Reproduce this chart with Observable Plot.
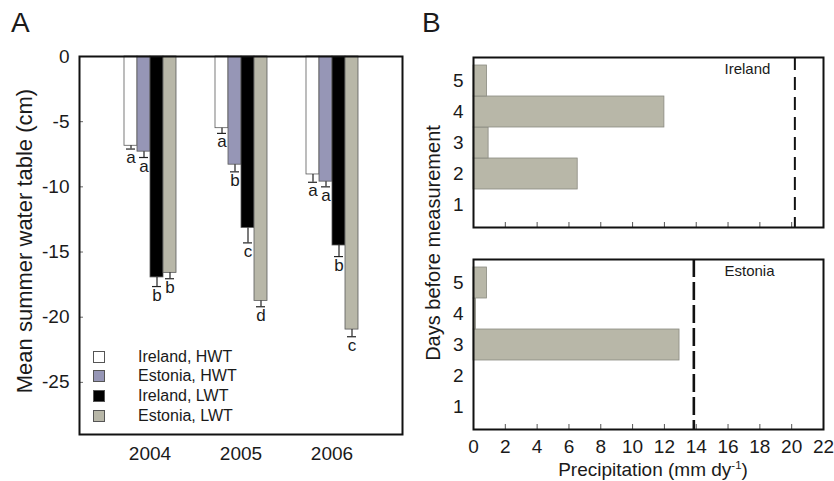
<!DOCTYPE html>
<html><head><meta charset="utf-8">
<script src="https://cdn.jsdelivr.net/npm/d3@7"></script>
<script src="https://cdn.jsdelivr.net/npm/@observablehq/plot@0.6"></script>
<style>
body{margin:0;background:#fff;}
#root{position:relative;width:834px;height:481px;font-family:"Liberation Sans",Arial,sans-serif;color:#1a1a1a;overflow:hidden;background:#fff;}
#root svg{position:absolute;top:0;}
.txt{position:absolute;white-space:nowrap;line-height:1;}
.rot{transform:translate(-50%,-50%) rotate(-90deg);}
.legend{position:absolute;left:93px;top:347px;font-size:16px;}
.legend .row{display:flex;align-items:center;height:19.67px;}
.legend .sw{width:10px;height:10px;border:1px solid #555;box-sizing:content-box;margin-right:33px;}
sup{font-size:0.6em;vertical-align:0.6em;line-height:0;}
</style></head><body><div id="root"></div>
<script>
// ---------- Panel A data ----------
const years = ["2004", "2005", "2006"];
const series = ["Ireland, HWT", "Estonia, HWT", "Ireland, LWT", "Estonia, LWT"];
const seriesColors = ["#ffffff", "#9696b6", "#000000", "#b8b7a8"];
const irelandHWT = [-6.85, -5.5, -9.05];
const estoniaHWT = [-7.3, -8.3, -9.6];
const irelandLWT = [-16.95, -13.15, -14.5];
const estoniaLWT = [-16.6, -18.75, -20.95];
const irelandHWTErr = [0.25, 0.4, 0.6];
const estoniaHWTErr = [0.45, 0.55, 0.4];
const irelandLWTErr = [0.7, 1.15, 0.85];
const estoniaLWTErr = [0.45, 0.45, 0.55];
const irelandHWTLetters = ["a", "a", "a"];
const estoniaHWTLetters = ["a", "b", "a"];
const irelandLWTLetters = ["b", "c", "b"];
const estoniaLWTLetters = ["b", "d", "c"];
const yTicksA = [0, -5, -10, -15, -20, -25];

// ---------- Panel B data ----------
const countries = ["Ireland", "Estonia"];
const days = [1, 2, 3, 4, 5];
const irelandPrecip = [0, 6.55, 0.95, 12.0, 0.85];
const estoniaPrecip = [0, 0, 12.95, 0.15, 0.85];
const thresholds = [20.2, 13.85];
const xTicksB = [0, 2, 4, 6, 8, 10, 12, 14, 16, 18, 20, 22];

const FONT = '"Liberation Sans", Arial, sans-serif';
const root = document.getElementById("root");

const means = [irelandHWT, estoniaHWT, irelandLWT, estoniaLWT];
const errs = [irelandHWTErr, estoniaHWTErr, irelandLWTErr, estoniaLWTErr];
const letters = [irelandHWTLetters, estoniaHWTLetters, irelandLWTLetters, estoniaLWTLetters];
const rowsA = years.flatMap((year, i) => series.map((s, j) => ({
  year, series: s, value: means[j][i], err: errs[j][i], letter: letters[j][i]
})));
const lower = d => d.value - d.err;

const dimsA = {width: 420, height: 481, marginLeft: 79, marginRight: 18, marginTop: 56, marginBottom: 47};
const styleBase = {background: "transparent", fontFamily: FONT, fontSize: "19px", color: "#1a1a1a", overflow: "visible"};

const barsA = Plot.plot({
  ...dimsA,
  style: styleBase,
  fx: {domain: years, paddingInner: 0.391, paddingOuter: 0.4565, label: null, axis: "bottom", tickSize: 0, tickPadding: 12},
  x: {domain: series, padding: 0, axis: null},
  y: {domain: [-29, 0], axis: null},
  color: {domain: series, range: seriesColors},
  marks: [
    Plot.barY(rowsA, {fx: "year", x: "series", y: "value", fill: "series", stroke: "#5a5a5a", strokeWidth: 0.8}),
    Plot.ruleX(rowsA, {fx: "year", x: "series", y1: "value", y2: lower, stroke: "#222", strokeWidth: 1.2}),
    Plot.tickY(rowsA, {fx: "year", x: "series", y: lower, insetLeft: 2, insetRight: 2, stroke: "#222", strokeWidth: 1.2}),
    Plot.text(rowsA, {fx: "year", x: "series", y: lower, text: "letter", lineAnchor: "top", dy: 2, fontSize: 17, fill: "#1a1a1a"})
  ]
});
barsA.style.left = "0px";
root.appendChild(barsA);

const axesA = Plot.plot({
  ...dimsA,
  style: styleBase,
  y: {domain: [-29, 0]},
  marks: [
    Plot.ruleY(yTicksA.filter(t => t !== 0), {y: d => d, insetRight: 319, stroke: "#666"}),
    Plot.frame({stroke: "#111", strokeWidth: 2}),
    Plot.axisY({ticks: yTicksA, tickSize: 0, tickPadding: 10, label: null, tickFormat: d => String(d)})
  ]
});
axesA.style.left = "0px";
root.appendChild(axesA);

// legend
const legend = document.createElement("div");
legend.className = "legend";
series.forEach((s, j) => {
  const row = document.createElement("div");
  row.className = "row";
  const sw = document.createElement("div");
  sw.className = "sw";
  sw.style.background = seriesColors[j];
  const t = document.createElement("span");
  t.textContent = s;
  row.appendChild(sw); row.appendChild(t);
  legend.appendChild(row);
});
root.appendChild(legend);

// ---------- Panel B ----------
const precips = [irelandPrecip, estoniaPrecip];
const rowsB = countries.flatMap((c, i) => days.map((day, k) => ({country: c, day, precip: precips[i][k]})));
const threshRows = countries.map((c, i) => ({country: c, value: thresholds[i]}));

const plotB = Plot.plot({
  width: 414, height: 481, marginLeft: 53, marginRight: 11, marginTop: 56, marginBottom: 51,
  style: styleBase,
  fy: {domain: countries, paddingInner: 0.156, paddingOuter: 0, axis: null},
  y: {type: "band", domain: [5, 4, 3, 2, 1], paddingInner: 0, paddingOuter: 0.22},
  x: {domain: [0, 22]},
  marks: [
    Plot.barX(rowsB.filter(d => d.precip > 0), {fy: "country", y: "day", x: "precip", fill: "#b8b7a8", stroke: "#8a8a80", strokeWidth: 0.8}),
    Plot.ruleX(threshRows.filter(d => d.country === "Ireland"), {fy: "country", x: "value", stroke: "#111", strokeDasharray: "13,7", strokeWidth: 2}),
    Plot.ruleX(threshRows.filter(d => d.country === "Estonia"), {fy: "country", x: "value", stroke: "#111", strokeDasharray: "18,5", strokeWidth: 2.6}),
    Plot.ruleX(xTicksB.filter(t => t > 0 && t < 22), {x: d => d, insetTop: 165, stroke: "#555"}),
    Plot.text(threshRows, {fy: "country", text: "country", frameAnchor: "top-right", textAnchor: "start", dx: -99, dy: 6, fontSize: 15, fill: "#1a1a1a"}),
    Plot.frame({stroke: "#111", strokeWidth: 2}),
    Plot.axisY({tickSize: 0, tickPadding: 10, label: null}),
    Plot.axisX({ticks: xTicksB, tickSize: 0, tickPadding: 10, label: null})
  ]
});
plotB.style.left = "420px";
root.appendChild(plotB);

// ---------- text ----------
function addText(html, cls, css) {
  const d = document.createElement("div");
  d.className = "txt " + (cls || "");
  d.innerHTML = html;
  Object.assign(d.style, css);
  root.appendChild(d);
}
addText("A", "", {left: "11px", top: "9px", fontSize: "28px"});
addText("B", "", {left: "422px", top: "9px", fontSize: "28px"});
addText("Mean summer water table (cm)", "rot", {left: "25px", top: "241px", fontSize: "22px"});
addText("Days before measurement", "rot", {left: "433px", top: "243px", fontSize: "20px"});
addText("Precipitation (mm dy<sup>-1</sup>)", "", {left: "653px", top: "460px", fontSize: "19px", transform: "translateX(-50%)"});
</script></body></html>
